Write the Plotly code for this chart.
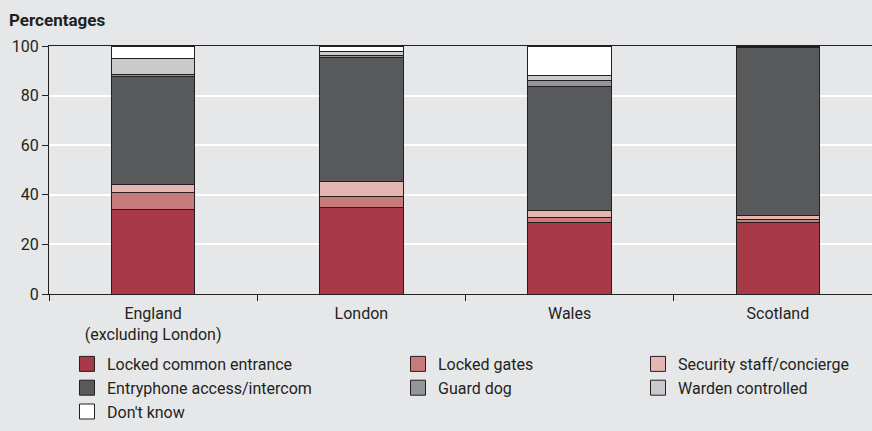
import plotly.graph_objects as go

# Survey regions (x categories)
regions = ["England<br>(excluding London)", "London", "Wales", "Scotland"]

# Percentage of households with each security measure, stacked bottom to top
locked_common_entrance = [34.0, 34.7, 28.8, 29.0]
locked_gates = [6.9, 4.8, 2.1, 1.1]
security_staff = [3.3, 5.9, 2.6, 1.5]
entryphone = [43.7, 49.9, 50.0, 67.6]
guard_dog = [0.8, 0.8, 2.5, 0.3]
warden_controlled = [6.1, 1.8, 2.0, 0.2]
dont_know = [5.2, 2.1, 12.0, 0.3]

y_ticks = [0, 20, 40, 60, 80, 100]

series = [
    ("Locked common entrance", locked_common_entrance, "#a83a48", "legend"),
    ("Locked gates", locked_gates, "#c97b7b", "legend2"),
    ("Security staff/concierge", security_staff, "#e5b6b1", "legend3"),
    ("Entryphone access/intercom", entryphone, "#58595b", "legend"),
    ("Guard dog", guard_dog, "#939598", "legend2"),
    ("Warden controlled", warden_controlled, "#c9cacc", "legend3"),
    ("Don't know", dont_know, "#ffffff", "legend"),
]

FONT = "Roboto, 'Open Sans', sans-serif"
INK = "#231f20"
BG = "#e6e7e8"

# plot area in pixels
L, R, T, B = 49, 872, 46, 294
PW, PH = R - L, B - T


def px_x(v):
    return (v - L) / PW


def px_y(v):
    return (B - v) / PH


fig = go.Figure()
for name, vals, color, leg in series:
    fig.add_trace(go.Bar(
        x=regions, y=vals, name=name, legendgroup=name, showlegend=False,
        marker=dict(color=color, line=dict(color=INK, width=1)),
        width=0.4,
    ))
    # legend key: larger square swatch than the default bar icon
    fig.add_trace(go.Scatter(
        x=[None], y=[None], mode="markers", name=name, legend=leg,
        legendgroup=name, hoverinfo="skip",
        marker=dict(symbol="square", size=15, color=color,
                    line=dict(color=INK, width=1)),
    ))

legend_common = dict(
    xanchor="left", yanchor="top",
    orientation="v", traceorder="normal", bgcolor="rgba(0,0,0,0)",
    font=dict(family=FONT, size=16, color=INK), itemsizing="trace",
)

fig.update_layout(
    width=872, height=431,
    margin=dict(l=L, r=872 - R, t=T, b=431 - B, autoexpand=False),
    paper_bgcolor=BG, plot_bgcolor=BG,
    barmode="stack",
    font=dict(family=FONT, size=16, color=INK),
    xaxis=dict(
        range=[-0.5, 3.452], tickson="boundaries", ticks="outside",
        ticklen=6, tickcolor=INK, tickwidth=1, tickangle=0,
        ticklabelstandoff=5,
        showline=True, linecolor=INK, linewidth=1, mirror=True,
        showgrid=False, fixedrange=True,
        tickfont=dict(family=FONT, size=16, color=INK),
    ),
    yaxis=dict(
        range=[0, 100], tickvals=y_ticks, ticks="outside", ticklen=6,
        tickcolor=INK, tickwidth=1, showline=True, linecolor=INK, linewidth=1,
        showgrid=True, gridcolor="#ffffff", gridwidth=1.5, zeroline=False,
        fixedrange=True, tickfont=dict(family=FONT, size=16, color=INK),
    ),
    legend=dict(x=px_x(67), y=px_y(347), **legend_common),
    legend2=dict(x=px_x(398), y=px_y(347), **legend_common),
    legend3=dict(x=px_x(638), y=px_y(347), **legend_common),
    showlegend=True,
    annotations=[dict(
        text="<b>Percentages</b>", xref="paper", yref="paper",
        x=px_x(7), y=px_y(20), xanchor="left", yanchor="middle",
        showarrow=False, font=dict(family=FONT, size=17, color=INK),
    )],
)

fig.write_html("out.html")
